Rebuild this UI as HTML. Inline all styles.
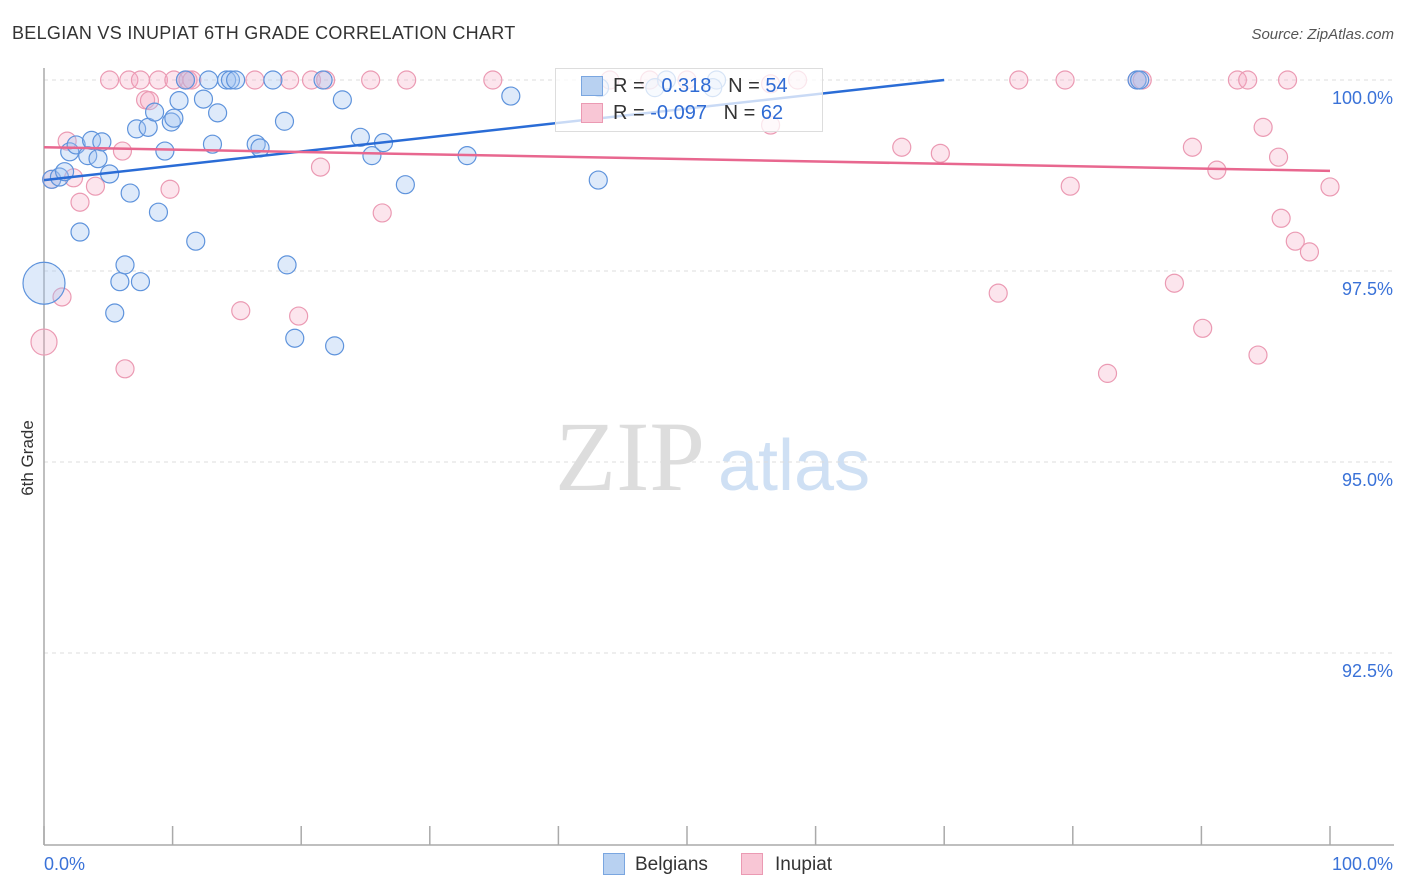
<!DOCTYPE html>
<html><head><meta charset="utf-8"><style>
body{margin:0;background:#fff;font-family:"Liberation Sans",sans-serif;}
#wrap{position:relative;width:1406px;height:892px;overflow:hidden;}
</style></head><body>
<div id="wrap">
<svg id="svg" width="1406" height="892">
<text x="12" y="39" font-size="18" fill="#333" letter-spacing="0.3">BELGIAN VS INUPIAT 6TH GRADE CORRELATION CHART</text>
<text x="1394" y="39" font-size="15" fill="#555" font-style="italic" text-anchor="end">Source: ZipAtlas.com</text>
<text x="33" y="458" font-size="17" fill="#333" transform="rotate(-90 33 458)" text-anchor="middle">6th Grade</text>
<text x="555" y="490" font-size="100" fill="#ddd" font-family="Liberation Serif,serif">ZIP</text>
<text x="718" y="490" font-size="72" fill="#cfe0f4">atlas</text>
<g id="grid"></g><g id="axes"></g><g id="pts"></g><g id="trend"></g>
</svg>
<div style="position:absolute;left:555px;top:68px;width:266px;height:62px;border:1px solid #ddd;background:rgba(255,255,255,0.75);font-size:20px;">
 <div style="position:absolute;left:25px;top:7px;width:20px;height:18px;background:#b8d1f1;border:1px solid #7aa6e0"></div>
 <div style="position:absolute;left:57px;top:6px;color:#333">R = &nbsp;&nbsp;<span style="color:#2f6bd4">0.318</span>&nbsp;&nbsp;&nbsp;N = <span style="color:#2f6bd4">54</span></div>
 <div style="position:absolute;left:25px;top:34px;width:20px;height:18px;background:#f8c6d5;border:1px solid #eb9ab3"></div>
 <div style="position:absolute;left:57px;top:33px;color:#333">R = <span style="color:#2f6bd4">-0.097</span>&nbsp;&nbsp;&nbsp;N = <span style="color:#2f6bd4">62</span></div>
</div>
<div style="position:absolute;left:603px;top:853px;width:20px;height:20px;background:#b8d1f1;border:1px solid #7aa6e0"></div>
<div style="position:absolute;left:635px;top:854px;font-size:19px;color:#333">Belgians</div>
<div style="position:absolute;left:741px;top:853px;width:20px;height:20px;background:#f8c6d5;border:1px solid #eb9ab3"></div>
<div style="position:absolute;left:775px;top:854px;font-size:19px;color:#333">Inupiat</div>
</div>
<script>
const blueX=[0.6,1.2,1.6,2.0,2.5,2.8,3.4,3.7,4.2,4.5,5.1,5.5,5.9,6.3,6.7,7.2,7.5,8.1,8.6,8.9,9.4,9.9,10.1,10.5,11.0,11.8,12.4,12.8,13.1,13.5,14.2,14.5,14.9,16.5,16.8,17.8,18.7,18.9,19.5,21.7,22.6,23.2,24.6,25.5,26.4,28.1,32.9,36.3,43.1,48.4,52.3,85.0,85.2,0,47.5,52.0,43.2];
const blueY=[98.70,98.73,98.80,99.06,99.15,98.01,99.01,99.21,98.97,99.19,98.77,96.95,97.36,97.58,98.52,99.36,97.36,99.38,99.58,98.27,99.07,99.45,99.50,99.73,100,97.89,99.75,100,99.16,99.57,100,100,100,99.16,99.11,100,99.46,97.58,96.62,100,96.52,99.74,99.25,99.01,99.18,98.63,99.01,99.79,98.69,100,100,100,100,97.34,99.9,99.9,99.9];
const blueR=[9,9,9,9,9,9,9,9,9,9,9,9,9,9,9,9,9,9,9,9,9,9,9,9,9,9,9,9,9,9,9,9,9,9,9,9,9,9,9,9,9,9,9,9,9,9,9,9,9,9,9,9,9,21,9,9,9];
const pinkX=[0,0.6,1.4,1.8,2.3,2.8,4.0,5.1,6.1,6.3,6.6,7.5,7.9,8.2,8.9,9.8,10.1,11.0,11.2,11.5,15.3,16.4,19.1,19.8,20.8,21.5,21.9,25.4,26.3,28.2,34.9,47.1,56.5,58.6,66.7,69.7,74.2,75.8,79.4,79.8,82.7,85.0,85.4,87.9,89.3,90.1,91.2,92.8,93.6,94.4,94.8,96.0,96.2,96.7,97.3,98.4,100,44.0,50.0,56.5];
const pinkY=[96.57,98.70,97.16,99.20,98.72,98.40,98.61,100,99.07,96.22,100,100,99.74,99.73,100,98.57,100,100,100,100,96.98,100,100,96.91,100,98.86,100,100,98.26,100,100,100,99.41,100,99.12,99.04,97.21,100,100,98.61,96.16,100,100,97.34,99.12,96.75,98.82,100,100,96.40,99.38,98.99,98.19,100,97.89,97.75,98.60,100,100,99.95];
const pinkR=[13,9,9,9,9,9,9,9,9,9,9,9,9,9,9,9,9,9,9,9,9,9,9,9,9,9,9,9,9,9,9,9,9,9,9,9,9,9,9,9,9,9,9,9,9,9,9,9,9,9,9,9,9,9,9,9,9,9,9,9];
const yTicks=[100,97.5,95,92.5];
const yTickLabels=["100.0%","97.5%","95.0%","92.5%"];
const xTicks=[0,10,20,30,40,50,60,70,80,90,100];
const blueTrendX=[0,70];const blueTrendY=[98.69,100];
const pinkTrendX=[0,100];const pinkTrendY=[99.12,98.81];
const X0=44,X1=1330,Y100=80,PX=76.4;
function sx(v){return X0+(X1-X0)*v/100;}
function sy(v){return Y100+(100-v)*PX;}
const NS="http://www.w3.org/2000/svg";
function mk(tag,attrs,parent){const e=document.createElementNS(NS,tag);for(const k in attrs)e.setAttribute(k,attrs[k]);document.getElementById(parent).appendChild(e);return e;}
yTicks.forEach((t,i)=>{
 const l=mk('line',{x1:X0,x2:1394,y1:sy(t),y2:sy(t),stroke:'#ddd','stroke-dasharray':'4,4'},'grid');
 
 
 const tx=mk('text',{x:1393,y:sy(t)+24,'font-size':18,fill:'#3a72d8','text-anchor':'end'},'grid');
 tx.textContent=yTickLabels[i];
 
 
});
const ya=mk('line',{x1:X0,x2:X0,y1:68,y2:845,stroke:'#aaa','stroke-width':1.5},'axes');


const xa=mk('line',{x1:X0,x2:1394,y1:845,y2:845,stroke:'#aaa','stroke-width':1.5},'axes');


xTicks.forEach(t=>{const l=mk('line',{x1:sx(t),x2:sx(t),y1:826,y2:845,stroke:'#aaa','stroke-width':1.5},'axes');
 
 });
const xl0=mk('text',{x:44,y:870,'font-size':18,fill:'#3a72d8'},'axes');xl0.textContent='0.0%';


const xl1=mk('text',{x:1393,y:870,'font-size':18,fill:'#3a72d8','text-anchor':'end'},'axes');xl1.textContent='100.0%';


pinkX.forEach((v,i)=>{const c=mk('circle',{cx:sx(v),cy:sy(pinkY[i]),r:pinkR[i],fill:'rgba(246,170,195,0.3)',stroke:'#eb9ab3','stroke-width':1.2},'pts');
 
 });
blueX.forEach((v,i)=>{const c=mk('circle',{cx:sx(v),cy:sy(blueY[i]),r:blueR[i],fill:'rgba(160,195,240,0.35)',stroke:'#5e93dc','stroke-width':1.2},'pts');
 
 });
const bt=mk('line',{x1:sx(blueTrendX[0]),y1:sy(blueTrendY[0]),x2:sx(blueTrendX[1]),y2:sy(blueTrendY[1]),stroke:'#2a6cd6','stroke-width':2.5},'trend');


const pt=mk('line',{x1:sx(pinkTrendX[0]),y1:sy(pinkTrendY[0]),x2:sx(pinkTrendX[1]),y2:sy(pinkTrendY[1]),stroke:'#e8678f','stroke-width':2.5},'trend');


</script>
</body></html>
